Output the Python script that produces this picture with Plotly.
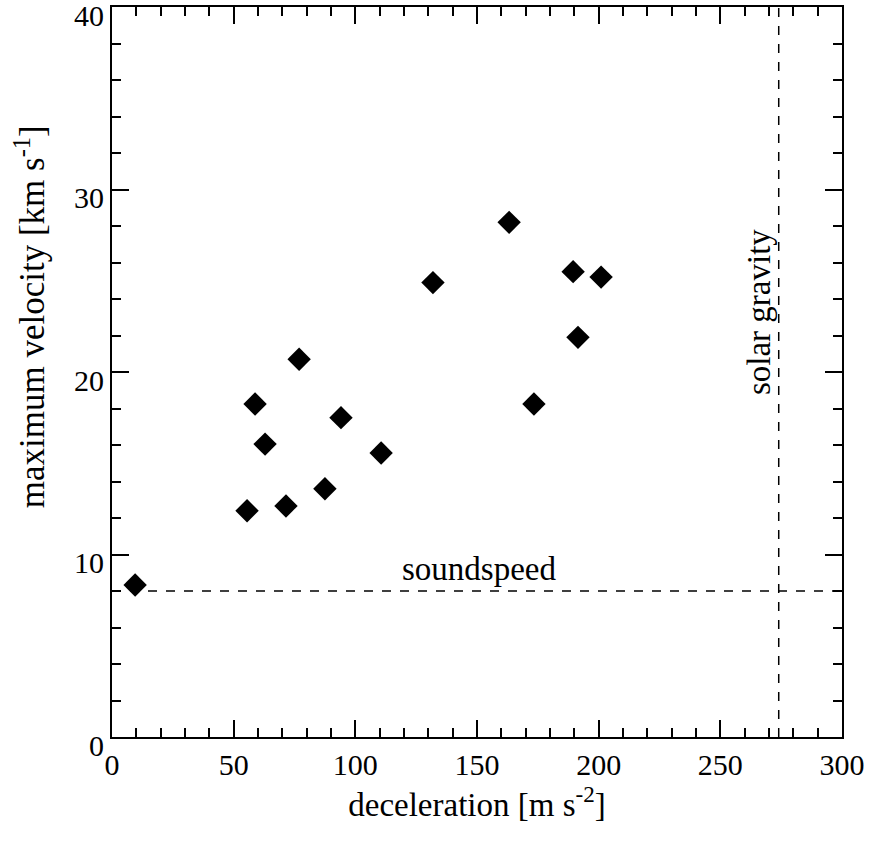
import plotly.graph_objects as go

deceleration = [9.5, 55.5, 58.8, 62.9, 71.5, 76.9, 87.5, 94.1, 110.6, 131.9, 163.2, 173.4, 189.5, 191.5, 201.0]
max_velocity = [8.33, 12.4, 18.25, 16.05, 12.66, 20.7, 13.6, 17.5, 15.56, 24.9, 28.2, 18.25, 25.5, 21.9, 25.2]
soundspeed = 8.0
solar_gravity = 274.0

FONT = "Liberation Serif"
FS = 33
TFS = 30

fig = go.Figure()
fig.add_trace(go.Scatter(
    x=deceleration, y=max_velocity, mode="markers",
    marker=dict(symbol="diamond", size=18, color="black", line=dict(width=0)),
    showlegend=False, hoverinfo="skip"))

fig.add_shape(type="line", xref="x", yref="y", x0=0, x1=300, y0=soundspeed, y1=soundspeed,
              line=dict(color="black", width=1.5, dash="dash"))
fig.add_shape(type="line", xref="x", yref="y", x0=solar_gravity, x1=solar_gravity, y0=0, y1=40,
              line=dict(color="black", width=1.5, dash="dash"))

fig.add_annotation(x=151, y=soundspeed, yshift=22, text="soundspeed", showarrow=False,
                   font=dict(family=FONT, size=FS, color="black"))
fig.add_annotation(x=265.6, y=23.3, text="solar gravity", textangle=-90, showarrow=False,
                   font=dict(family=FONT, size=FS, color="black"))
# y-axis title (placed as in the reference, slightly above the axis centre)
fig.add_annotation(xref="paper", yref="paper", x=-0.1123, y=0.575, xanchor="center", yanchor="middle",
                   text="maximum velocity [km s<sup>-1</sup>]", textangle=-90, showarrow=False,
                   font=dict(family=FONT, size=35, color="black"))

axis_common = dict(showgrid=False, zeroline=False, showline=True, linecolor="black", linewidth=2,
                   mirror="ticks", ticks="inside", tickcolor="black", tickwidth=2, ticklen=17,
                   automargin=False, ticklabeloverflow="allow",
                   tickfont=dict(family=FONT, size=TFS, color="black"))

fig.update_xaxes(range=[0, 300], dtick=50, tick0=0,
                 minor=dict(dtick=10, ticklen=9, ticks="inside", tickcolor="black", tickwidth=2),
                 title=dict(text="deceleration [m s<sup>-2</sup>]", font=dict(family=FONT, size=FS, color="black"), standoff=10),
                 **axis_common)
fig.update_yaxes(range=[0, 40], dtick=10, tick0=0, ticklabelshift=8,
                 minor=dict(dtick=2, ticklen=9, ticks="inside", tickcolor="black", tickwidth=2),
                 **axis_common)

fig.update_layout(width=869, height=841, margin=dict(l=112, r=27, t=7, b=104),
                  plot_bgcolor="white", paper_bgcolor="white")

fig.write_html("out.html", config={"displayModeBar": False},
               post_script="document.body.style.margin='0';")
